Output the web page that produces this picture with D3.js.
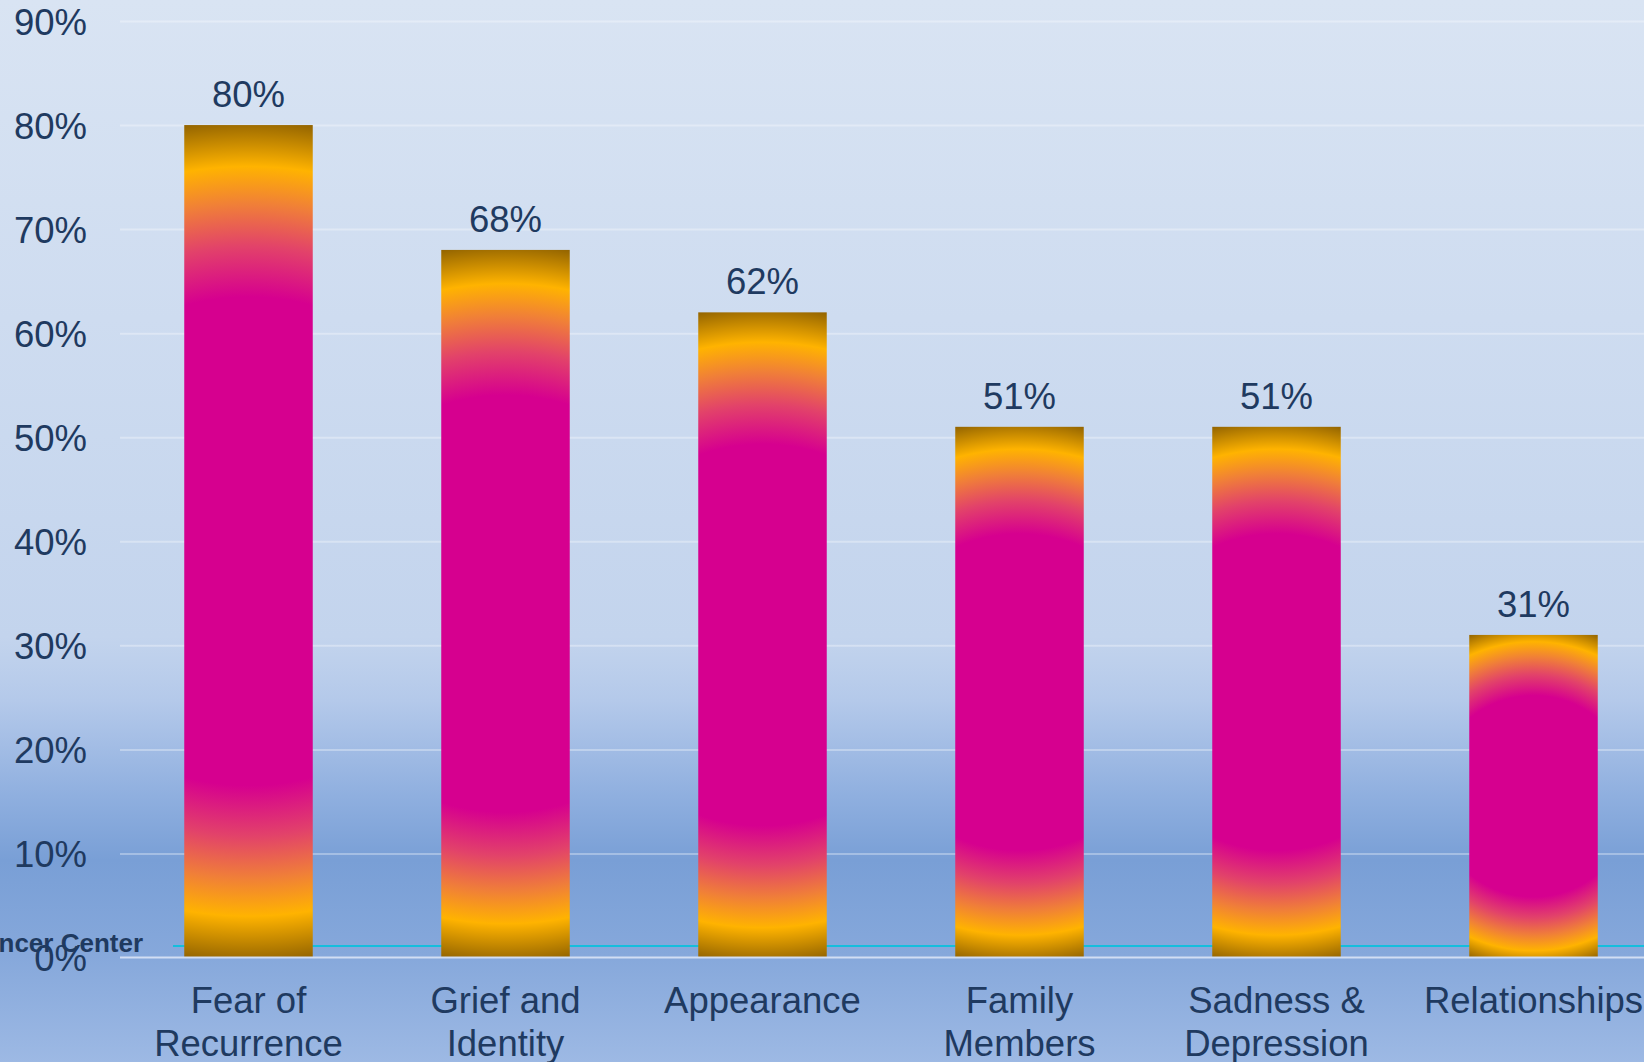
<!DOCTYPE html>
<html>
<head>
<meta charset="utf-8">
<script src="https://cdn.jsdelivr.net/npm/d3@7"></script>
<style>
html, body { margin: 0; padding: 0; overflow: hidden; }
svg { display: block; font-family: "Liberation Sans", Arial, sans-serif; }
</style>
</head>
<body>
<svg id="chart" width="1644" height="1062"></svg>
<script>
// chart data
var categories = ["Fear of Recurrence", "Grief and Identity", "Appearance", "Family Members", "Sadness & Depression", "Relationships"];
var categoryLines = [["Fear of", "Recurrence"], ["Grief and", "Identity"], ["Appearance"], ["Family", "Members"], ["Sadness &", "Depression"], ["Relationships"]];
var values = [80, 68, 62, 51, 51, 31];
var yTicks = [0, 10, 20, 30, 40, 50, 60, 70, 80, 90];
var footerText = "Cancer Center";

var W = 1644, H = 1062;
var textColor = "#1F3A60";

var svg = d3.select("#chart");
var defs = svg.append("defs");

// page background
var bg = defs.append("linearGradient")
	.attr("id", "bgGrad")
	.attr("x1", 0).attr("y1", 0).attr("x2", 0).attr("y2", 1);
[[0, "#D9E4F3"], [0.3, "#CEDCF0"], [0.6, "#C3D4ED"], [0.66, "#B4C9EA"], [0.75, "#8FAFDF"], [0.81, "#799FD6"], [0.9, "#86A8DB"], [1, "#9DB9E4"]]
	.forEach(function(s){
		bg.append("stop").attr("offset", s[0]).attr("stop-color", s[1]);
	});
svg.append("rect").attr("width", W).attr("height", H).attr("fill", "url(#bgGrad)");

var x = d3.scaleBand()
	.domain(categories)
	.range([120, 1662])
	.paddingInner(0.5)
	.paddingOuter(0.25);

var y = d3.scaleLinear()
	.domain([0, 90])
	.range([957.5, 21]);

// gridlines
svg.append("g")
	.attr("transform", "translate(120,0)")
	.call(d3.axisRight(y).tickValues(yTicks.slice(1)).tickSize(W).tickFormat(""))
	.call(function(g){
		g.select(".domain").remove();
		g.selectAll("line").attr("stroke", "#ffffff").attr("stroke-opacity", 0.32).attr("stroke-width", 2);
	});

// decorative cyan line
svg.append("line")
	.attr("x1", 173).attr("x2", W)
	.attr("y1", 946).attr("y2", 946)
	.attr("stroke", "#14BEDD")
	.attr("stroke-width", 2);

// footer text (clipped at left edge)
svg.append("text")
	.attr("x", 143).attr("y", 952)
	.attr("text-anchor", "end")
	.attr("font-weight", "bold")
	.attr("font-size", "26px")
	.attr("fill", textColor)
	.text(footerText);

// y tick labels
svg.append("g")
	.attr("transform", "translate(120,0)")
	.call(d3.axisLeft(y).tickValues(yTicks).tickSize(0).tickPadding(33).tickFormat(function(d){ return d + "%"; }))
	.call(function(g){
		g.select(".domain").remove();
		g.selectAll("text")
			.attr("font-family", "Liberation Sans, Arial, sans-serif")
			.attr("font-size", "36.5px")
			.attr("fill", textColor)
			.attr("dy", "0.36em");
	});

// per-bar radial gradients (circle through the bar corners)
values.forEach(function(v, i){
	var x0 = x(categories[i]), bw = x.bandwidth();
	var top = y(v), bot = y(0);
	var cx = x0 + bw / 2, cy = (top + bot) / 2;
	var r = Math.sqrt(Math.pow(bw / 2, 2) + Math.pow((bot - top) / 2, 2));
	var g = defs.append("radialGradient")
		.attr("id", "barGrad" + i)
		.attr("gradientUnits", "userSpaceOnUse")
		.attr("cx", cx).attr("cy", cy).attr("r", r)
		.attr("fx", cx).attr("fy", cy);
	[[0, "#D6008F"], [0.58, "#D6008F"], [0.7, "#E2426A"], [0.8, "#F07F38"], [0.89, "#FFB300"], [1, "#936400"]]
		.forEach(function(s){
			g.append("stop").attr("offset", s[0]).attr("stop-color", s[1]);
		});
});

svg.selectAll("rect.bar")
	.data(values)
	.enter()
	.append("rect")
		.attr("class", "bar")
		.attr("x", function(d, i){ return x(categories[i]); })
		.attr("y", function(d){ return y(d); })
		.attr("width", x.bandwidth())
		.attr("height", function(d){ return y(0) - y(d); })
		.attr("fill", function(d, i){ return "url(#barGrad" + i + ")"; });

// baseline
svg.append("line")
	.attr("x1", 120).attr("x2", W)
	.attr("y1", y(0)).attr("y2", y(0))
	.attr("stroke", "#D2DEF3")
	.attr("stroke-width", 2);

// value labels
svg.selectAll("text.value")
	.data(values)
	.enter()
	.append("text")
		.attr("class", "value")
		.attr("x", function(d, i){ return x(categories[i]) + x.bandwidth() / 2; })
		.attr("y", function(d){ return y(d) - 18; })
		.attr("text-anchor", "middle")
		.attr("font-size", "36.5px")
		.attr("fill", textColor)
		.text(function(d){ return d + "%"; });

// category labels
var cat = svg.selectAll("text.cat")
	.data(categoryLines)
	.enter()
	.append("text")
		.attr("class", "cat")
		.attr("text-anchor", "middle")
		.attr("font-size", "36.5px")
		.attr("fill", textColor);
cat.each(function(lines, i){
	var t = d3.select(this);
	var cx = x(categories[i]) + x.bandwidth() / 2;
	lines.forEach(function(l, j){
		t.append("tspan").attr("x", cx).attr("y", 1013 + j * 43).text(l);
	});
});
</script>
</body>
</html>
